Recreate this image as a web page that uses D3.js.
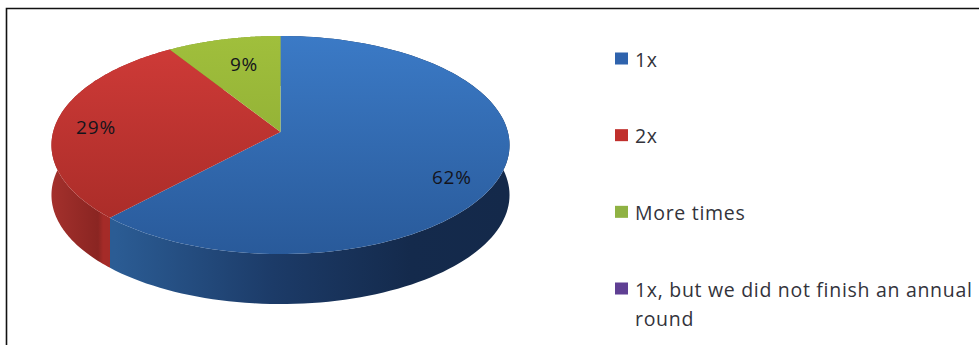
<!DOCTYPE html>
<html>
<head>
<meta charset="utf-8">
<script src="https://cdn.jsdelivr.net/npm/d3@7/dist/d3.min.js"></script>
<style>
  html, body { margin: 0; padding: 0; background: #fff; }
  svg { display: block; }
  text { font-family: "Open Sans", Lato, sans-serif; }
</style>
</head>
<body>
<div id="chart"></div>
<script>
const categories = ["1x", "2x", "More times", "1x, but we did not finish an annual round"];
const shares = [62, 29, 9, 0];
const keyColors = ["#2f63ad", "#c02f2c", "#8fb243", "#5f3f93"];
const topStops = [["#3b7ac6", "#295a9a"], ["#d03b38", "#a42a26"], ["#a0bf3c", "#86a430"], ["#5f3f93", "#5f3f93"]];
const sideStops = [
  ["#2b5c94", "#1c3b68", "#142a4c", "#14294a"],
  ["#a3302c", "#8a2522", "#a52b28", "#a52b28"],
  ["#7f9a2e", "#7f9a2e", "#7f9a2e", "#7f9a2e"],
  ["#4b3175", "#4b3175", "#4b3175", "#4b3175"]
];
const labelNudge = [[-4, 12], [-5, 3], [10, 8], [0, 0]];

const width = 979, height = 345;

// Tilted disc: a perspective view of the unit circle, with the hub above the ellipse centre.
const disc = { hubX: 280.5, hubY: 132, spreadX: 227.4, spreadY: 107.5, tilt: 0.1193, depth: 50 };
const project = (angle, radius = 1) => {
  const x = radius * Math.sin(angle), y = -radius * Math.cos(angle);
  const w = 1 - disc.tilt * y;
  return [disc.hubX + disc.spreadX * x / w, disc.hubY + disc.spreadY * y / w];
};

const svg = d3.select("#chart").append("svg").attr("width", width).attr("height", height);
const defs = svg.append("defs");

// Frame: only the top and left rules are present.
svg.append("path").attr("d", "M6.5,345V8.5H979").attr("fill", "none").attr("stroke", "#111").attr("stroke-width", 1.6);

const pie = d3.pie().sort(null).value(d => d);
const arcs = pie(shares);
const line = d3.line();
const arcPoints = d => d3.range(0, 121).map(i => project(d.startAngle + (d.endAngle - d.startAngle) * i / 120));

arcs.forEach((d, i) => {
  const side = defs.append("linearGradient").attr("id", "side" + i).attr("gradientUnits", "userSpaceOnUse")
    .attr("x1", i === 1 ? 52 : 115).attr("x2", i === 1 ? 116 : 509).attr("y1", 0).attr("y2", 0);
  const offsets = i === 1 ? [0, 0.72, 0.8, 1] : [0, 0.4, 0.75, 1];
  sideStops[i].forEach((c, k) => side.append("stop").attr("offset", offsets[k]).attr("stop-color", c));
  const top = defs.append("linearGradient").attr("id", "top" + i).attr("gradientUnits", "userSpaceOnUse")
    .attr("x1", 0).attr("x2", 0).attr("y1", 36).attr("y2", 254);
  top.append("stop").attr("offset", 0).attr("stop-color", topStops[i][0]);
  top.append("stop").attr("offset", 1).attr("stop-color", topStops[i][1]);
});

const slices = arcs.filter(d => d.value > 0);

// Rim of the disc first, so the top face covers the hidden back half.
svg.append("g").selectAll("path").data(slices).join("path")
  .attr("d", d => {
    const pts = arcPoints(d);
    const lower = pts.slice().reverse().map(([x, y]) => [x, y + disc.depth]);
    return line(pts.concat(lower)) + "Z";
  })
  .attr("fill", d => `url(#side${d.index})`);

svg.append("g").selectAll("path").data(slices).join("path")
  .attr("d", d => line([[disc.hubX, disc.hubY], ...arcPoints(d)]) + "Z")
  .attr("fill", d => `url(#top${d.index})`);

// Percentage labels sit near the outer part of each slice.
svg.append("g").selectAll("text").data(slices).join("text")
  .attr("x", d => project((d.startAngle + d.endAngle) / 2, 0.8)[0] + labelNudge[d.index][0])
  .attr("y", d => project((d.startAngle + d.endAngle) / 2, 0.8)[1] + labelNudge[d.index][1])
  .attr("text-anchor", "middle").attr("dominant-baseline", "central")
  .attr("font-size", 19).attr("letter-spacing", 0.8).attr("fill", "#14141c")
  .text(d => d.value + "%");

// Legend
const keyY = d3.scalePoint().domain(categories).range([58.5, 288.5]);
const keyX = 615, textX = 635, maxLine = 342, lineStep = 29;
const key = svg.append("g").selectAll("g").data(categories).join("g")
  .attr("transform", d => `translate(0,${keyY(d)})`);
key.append("rect").attr("x", keyX).attr("y", -6).attr("width", 13).attr("height", 12)
  .attr("fill", (d, i) => keyColors[i]);
key.append("text").attr("x", textX).attr("y", 8).attr("font-size", 19.5).attr("letter-spacing", 0.7).attr("fill", "#33333b")
  .each(function (d) {
    const label = d3.select(this);
    let tspan = label.append("tspan").attr("x", textX), row = [];
    d.split(" ").forEach(word => {
      row.push(word);
      tspan.text(row.join(" "));
      if (tspan.node().getComputedTextLength() > maxLine) {
        row.pop();
        tspan.text(row.join(" "));
        row = [word];
        tspan = label.append("tspan").attr("x", textX).attr("dy", lineStep).text(word);
      }
    });
  });
</script>
</body>
</html>
